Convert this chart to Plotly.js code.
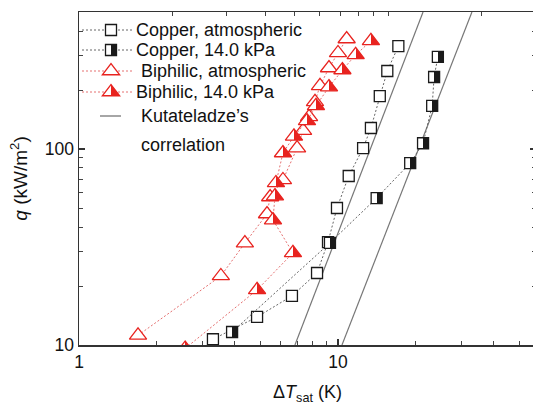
<!DOCTYPE html>
<html><head><meta charset="utf-8">
<script src="https://cdn.plot.ly/plotly-3.0.1.min.js"></script>
<style>html,body{margin:0;padding:0;overflow:hidden;background:#fff}#chart{width:536px;height:405px}</style>
</head><body><div id="chart"></div>
<script>
// ---- data (ΔT_sat in K, q in kW/m²) ----
const cuAtmX = [3.29, 4.87, 6.64, 8.30, 9.15, 9.91, 11.0, 12.5, 13.4, 14.5, 15.5, 17.1];
const cuAtmY = [10.7, 13.9, 17.8, 23.3, 33.5, 50.0, 72.8, 101, 128, 186, 250, 335];
const cuLowX = [3.90, 9.31, 14.1, 19.0, 21.3, 23.1, 23.5, 24.3];
const cuLowY = [11.65, 33.2, 56.2, 84.8, 107, 166, 233, 295];
const biAtmX = [1.69, 3.53, 4.37, 5.32, 5.47, 6.13, 6.95, 7.33, 7.73, 8.15, 8.52, 9.23, 10.0, 10.8];
const biAtmY = [11.2, 22.5, 33.1, 46.6, 56.9, 69.5, 101, 124, 146, 174, 210, 259, 309, 364];
const biLowX = [2.57, 4.87, 6.70, 5.61, 5.71, 5.76, 6.13, 6.76, 7.59, 8.22, 9.23, 10.4, 11.7, 13.4];
const biLowY = [9.6, 19.1, 29.5, 43.4, 57.5, 67.1, 95.4, 116, 139, 166, 207, 253, 302, 356];
const kutaX1 = [6.82, 21.3];
const kutaX2 = [10.36, 32.9];
const kutaY = [10, 500];
const seriesNames = ['Copper, atmospheric', 'Copper, 14.0 kPa', '\u00a0Biphilic, atmospheric', 'Biphilic, 14.0 kPa', 'Kutateladze\u2019s', 'correlation'];
const xTickVals = [1, 10];
const xTickText = ['1', '10'];
const xMinorVals = [2, 3, 4, 5, 6, 7, 8, 9, 20, 30, 40, 50];
const topTickVals = [2, 3, 4, 5, 6, 7, 8, 9, 10, 20];
const yTickVals = [10, 100];
const yTickText = ['10', '100'];
const yMinorVals = [20, 30, 40, 50, 60, 70, 80, 90, 200, 300, 400];

// ---- layout geometry ----
const W = 536, H = 405, ML = 79, MR = 0, MT = 12, MB = 60;
const PW = W - ML - MR, PH = H - MT - MB;
const fx = p => (p - ML) / PW, fy = p => (H - MB - p) / PH;
const FONT = 'Arial, "Liberation Sans", sans-serif';
const RED = '#e8231f', RED_LINE = '#e57070', BLK = '#1a1a1a', GRAY_LINE = '#666';

const traces = [
  {x: kutaX1, y: kutaY, mode: 'lines', line: {color: '#777', width: 1.2}, showlegend: false},
  {x: kutaX2, y: kutaY, mode: 'lines', line: {color: '#777', width: 1.2}, showlegend: false},
  {x: cuAtmX, y: cuAtmY, mode: 'lines+markers', showlegend: false,
   line: {color: GRAY_LINE, width: 1, dash: '2px,2px'},
   marker: {symbol: 'square', size: 11, color: '#fff', line: {color: BLK, width: 1.3}}},
  {x: cuLowX, y: cuLowY, mode: 'lines+markers', showlegend: false,
   line: {color: GRAY_LINE, width: 1, dash: '2px,2px'},
   marker: {symbol: 'square', size: 11, color: '#fff', gradient: {type: 'horizontal', color: BLK}, line: {color: BLK, width: 1.3}}},
  {x: biAtmX, y: biAtmY, mode: 'lines+markers', showlegend: false,
   line: {color: RED_LINE, width: 1, dash: '2px,2px'},
   marker: {symbol: 'triangle-up', size: 15, color: '#fff', line: {color: RED, width: 1.3}}},
  {x: biLowX, y: biLowY, mode: 'lines+markers', showlegend: false,
   line: {color: RED_LINE, width: 1, dash: '2px,2px'},
   marker: {symbol: 'triangle-up', size: 15, color: '#fff', gradient: {type: 'horizontal', color: RED}, line: {color: RED, width: 1.3}}},
  // empty trace so the top tick axis is drawn
  {x: [], y: [], xaxis: 'x2', yaxis: 'y', mode: 'markers', showlegend: false, hoverinfo: 'skip'}
];

// ---- hand-built legend (shapes + annotations) ----
const rowY = [30, 50, 71, 92, 116, 145];
const shapes = [], annotations = [];
const P = {xref: 'paper', yref: 'paper'};
const glyph = (kind, y) => {
  const base = Object.assign({}, P, {xsizemode: 'pixel', ysizemode: 'pixel', xanchor: fx(111), yanchor: fy(y)});
  if (kind === 'sq' || kind === 'hsq') {
    shapes.push(Object.assign({}, base, {type: 'rect', x0: -5.5, x1: 5.5, y0: -5.5, y1: 5.5, fillcolor: '#fff', line: {color: BLK, width: 1.3}}));
    if (kind === 'hsq') shapes.push(Object.assign({}, base, {type: 'rect', x0: 0, x1: 5.5, y0: -5.5, y1: 5.5, fillcolor: BLK, line: {width: 0}}));
  } else {
    shapes.push(Object.assign({}, base, {type: 'path', path: 'M-8.66,-3.75L8.66,-3.75L0,7.5Z', fillcolor: '#fff', line: {color: RED, width: 1.3}}));
    if (kind === 'htri') shapes.push(Object.assign({}, base, {type: 'path', path: 'M0,-3.75L8.66,-3.75L0,7.5Z', fillcolor: RED, line: {width: 0}}));
  }
};
const kinds = ['sq', 'hsq', 'tri', 'htri'];
kinds.forEach((k, i) => {
  const col = i < 2 ? GRAY_LINE : RED_LINE;
  shapes.push(Object.assign({}, P, {type: 'line', x0: fx(82), x1: fx(133), y0: fy(rowY[i]), y1: fy(rowY[i]), line: {color: col, width: 1, dash: '2px,2px'}}));
  glyph(k, rowY[i]);
});
shapes.push(Object.assign({}, P, {type: 'line', x0: fx(100), x1: fx(121), y0: fy(rowY[4]), y1: fy(rowY[4]), line: {color: '#888', width: 1.5}}));
seriesNames.forEach((n, i) => {
  annotations.push(Object.assign({}, P, {x: fx(i >= 4 ? 139 : 134), y: fy(rowY[i]), xanchor: 'left', yanchor: 'middle',
    text: n, showarrow: false, font: {family: FONT, size: 18, color: '#111'}}));
});

const layout = {
  width: W, height: H,
  margin: {l: ML, r: MR, t: MT, b: MB},
  paper_bgcolor: '#fff', plot_bgcolor: '#fff',
  font: {family: FONT, color: '#111'},
  showlegend: false,
  xaxis: {type: 'log', range: [0, PW / 259], tickvals: xTickVals, ticktext: xTickText,
    ticks: 'inside', ticklen: 6, tickwidth: 1.2, tickcolor: '#333',
    minor: {tickvals: xMinorVals, ticks: 'inside', ticklen: 4, tickwidth: 1, tickcolor: '#444'},
    showline: true, linecolor: '#333', linewidth: 1.5, mirror: true, showgrid: false, zeroline: false,
    tickfont: {size: 17.5, family: FONT, color: '#111'},
    title: {text: '\u0394<i>T</i><sub>sat</sub> (K)', font: {size: 18, family: FONT, color: '#111'}, standoff: 18}},
  xaxis2: {type: 'log', overlaying: 'x', side: 'top', anchor: 'y', range: [0, PW / 309], tickvals: topTickVals,
    showticklabels: false, ticks: 'inside', ticklen: 4, tickcolor: '#444', showline: false, showgrid: false, zeroline: false},
  yaxis: {type: 'log', range: [1, 1 + PH / 196], tickvals: yTickVals, ticktext: yTickText,
    ticks: 'inside', ticklen: 6, tickwidth: 1.2, tickcolor: '#333',
    minor: {tickvals: yMinorVals, ticks: 'inside', ticklen: 4, tickwidth: 1, tickcolor: '#444'},
    showline: true, linecolor: '#333', linewidth: 1.5, mirror: 'ticks', showgrid: false, zeroline: false,
    tickfont: {size: 17.5, family: FONT, color: '#111'},
    title: {text: '<i>q</i> (kW/m<sup>2</sup>)', font: {size: 19, family: FONT, color: '#111'}, standoff: 12}},
  shapes: shapes,
  annotations: annotations
};

Plotly.newPlot('chart', traces, layout, {staticPlot: true, displayModeBar: false}).then(gd => {
  // make the horizontal marker gradients a sharp half fill
  gd.querySelectorAll('linearGradient').forEach(g => {
    const stops = g.querySelectorAll('stop');
    if (stops.length !== 2) return;
    const a = stops[0].cloneNode(true), b = stops[1].cloneNode(true);
    a.setAttribute('offset', '50%'); b.setAttribute('offset', '50%');
    g.insertBefore(a, stops[1]); g.insertBefore(b, stops[1]);
  });
});
</script>
</body></html>
